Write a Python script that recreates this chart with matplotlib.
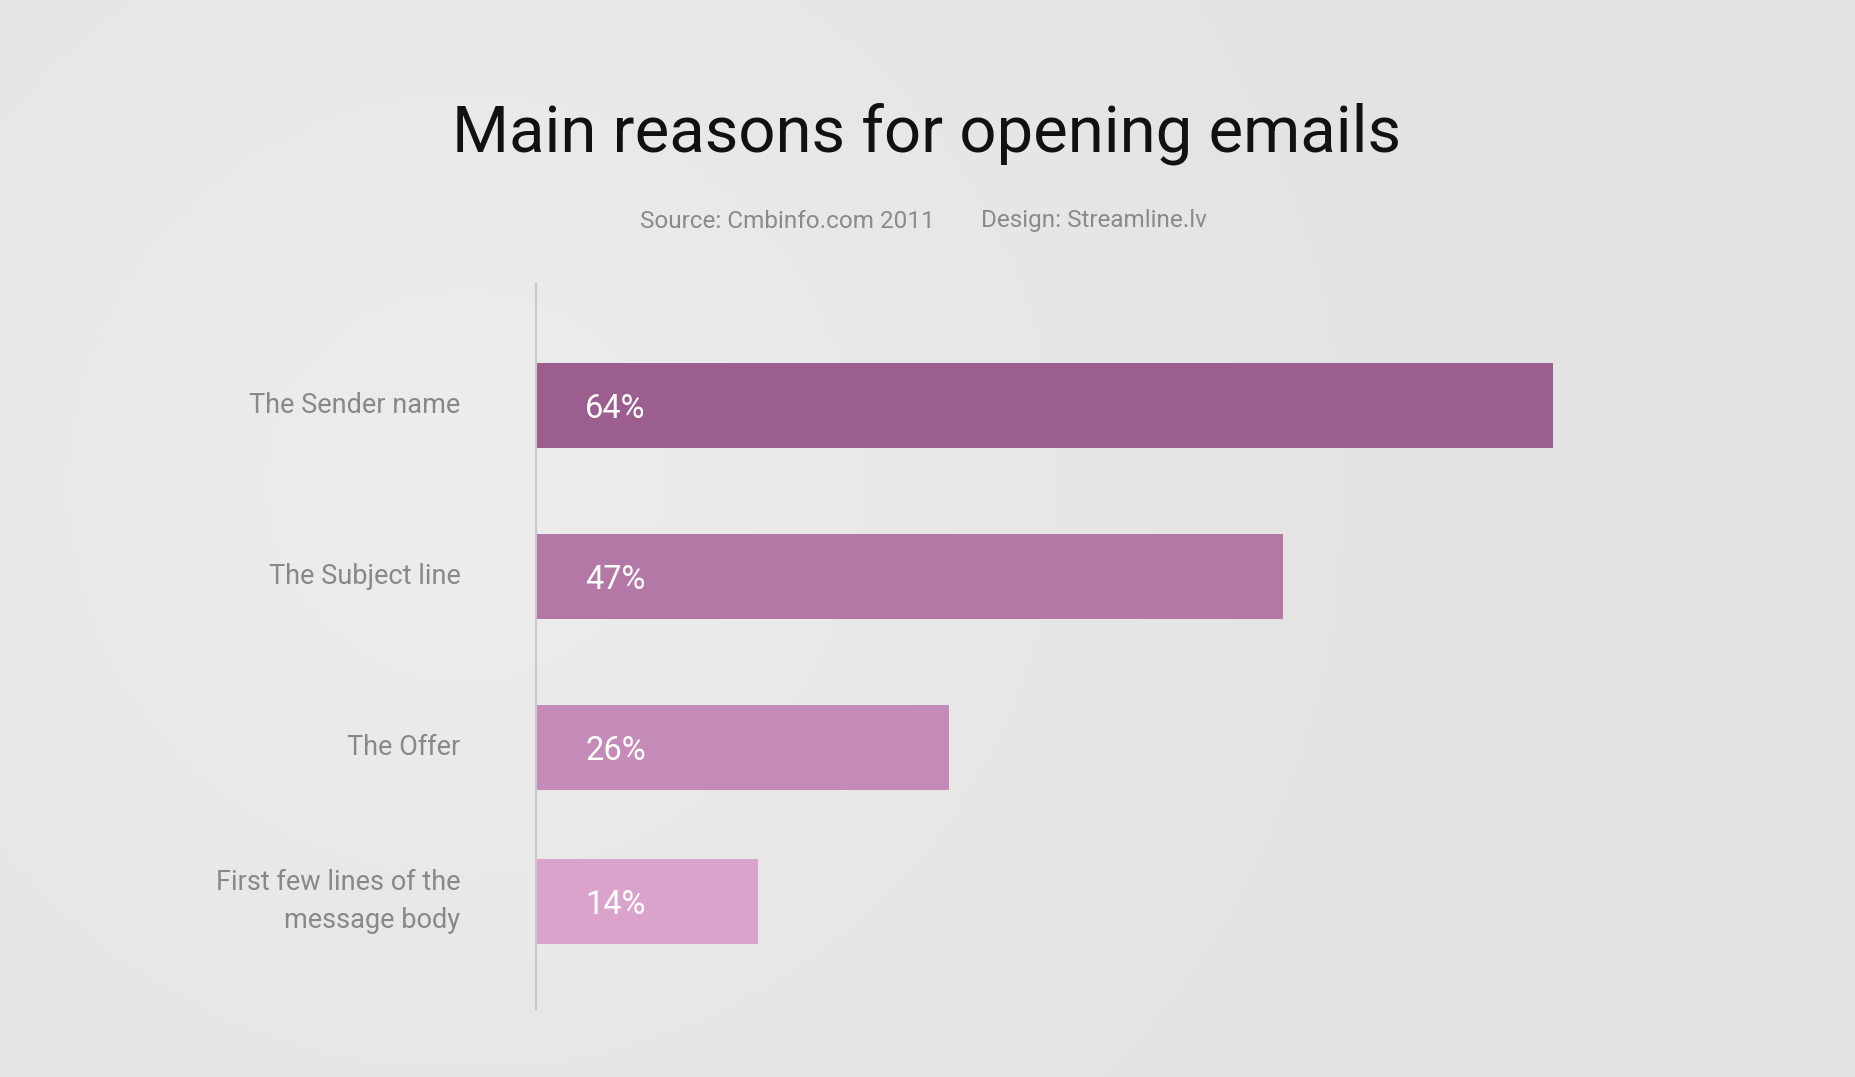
import numpy as np
import matplotlib
matplotlib.use("Agg")
import matplotlib.pyplot as plt
from matplotlib.colors import LinearSegmentedColormap

# data
categories = ["The Sender name", "The Subject line", "The Offer",
              "First few lines of the\nmessage body"]
values = [64, 47, 26, 14]
bar_colors = ["#9B5E8E", "#B378A6", "#C48BB8", "#D9A3CC"]

title = "Main reasons for opening emails"
source_txt = "Source: Cmbinfo.com 2011"
design_txt = "Design: Streamline.lv"

# row layout (last row sits a bit closer, as in the original)
ypos = [0, 1.0, 2.0, 2.9]

W, H = 1856, 1077
fig = plt.figure(figsize=(W / 100, H / 100), dpi=100)

# soft radial background
bg = fig.add_axes([0, 0, 1, 1], zorder=-10)
gx, gy = np.meshgrid(np.linspace(0, 1, 400), np.linspace(0, 1, 240))
r = np.sqrt(((gx - 0.25) * 1.7) ** 2 + (gy - 0.45) ** 2)
cmap = LinearSegmentedColormap.from_list("bg", ["#EDEDED", "#E3E3E3"])
bg.imshow(np.clip(r / 0.9, 0, 1), cmap=cmap, aspect="auto",
          extent=[0, 1, 0, 1], origin="upper", vmin=0, vmax=1)
bg.axis("off")

font = "Roboto"

# main axes: left edge at the vertical rule
px_per_pct = 15.89
ax = fig.add_axes([536 / W, 1 - 1009 / H, 1320 / W, (1009 - 284) / H])
ax.set_xlim(0, 1320 / px_per_pct)
ax.set_ylim(3.53, -0.713)
ax.patch.set_alpha(0)

ax.barh(ypos, values, height=0.498, color=bar_colors, zorder=2)

for y, v, c in zip(ypos, values, categories):
    ax.text(3.1, y + 0.02, f"{v}%", color="white", fontsize=23.5,
            family=font, ha="left", va="center", zorder=3)
    ax.text(-4.75, y, c, color="#888888", fontsize=19.5, family=font,
            ha="right", va="center", linespacing=1.55, clip_on=False)

for s in ["top", "right", "bottom"]:
    ax.spines[s].set_visible(False)
ax.spines["left"].set_color("#C8C8C8")
ax.spines["left"].set_linewidth(1.5)
ax.set_xticks([])
ax.set_yticks([])

fig.text(927 / W, 1 - 134 / H, title, fontsize=47, family=font,
         color="#111111", ha="center", va="center")
fig.text(640 / W, 1 - 221 / H, source_txt, fontsize=17.5, family=font,
         color="#8A8A8A", ha="left", va="center")
fig.text(981 / W, 1 - 221 / H, design_txt, fontsize=17.5, family=font,
         color="#8A8A8A", ha="left", va="center")

fig.savefig("out.png", dpi=100)
